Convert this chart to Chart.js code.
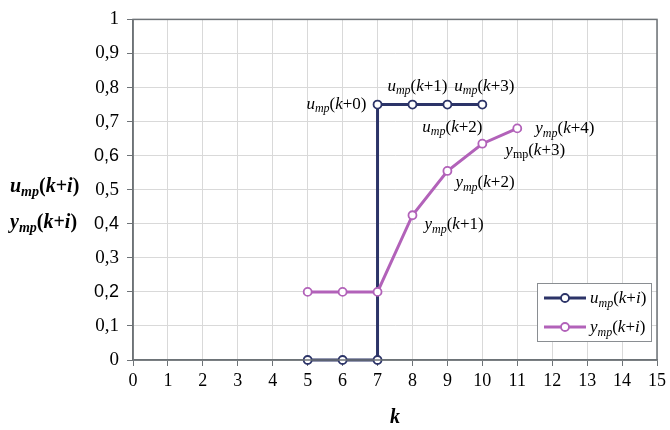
<!DOCTYPE html>
<html>
<head>
<meta charset="utf-8">
<script src="https://cdn.jsdelivr.net/npm/chart.js@4"></script>
<style>
  html, body { margin: 0; padding: 0; background: #fff; }
  #chart { display: block; }
</style>
</head>
<body>
<canvas id="chart" width="670" height="430"></canvas>
<script>
// =========================
// DATA
// =========================

const kTicks = [0, 1, 2, 3, 4, 5, 6, 7, 8, 9, 10, 11, 12, 13, 14, 15];
const yTickLabels = ["0", "0,1", "0,2", "0,3", "0,4", "0,5", "0,6", "0,7", "0,8", "0,9", "1"];

// u_mp(k+i): step at k = 7
const uK = [5, 6, 7, 7, 8, 9, 10];
const uVals = [0, 0, 0, 0.75, 0.75, 0.75, 0.75];

// y_mp(k+i)
const yK = [5, 6, 7, 8, 9, 10, 11];
const yVals = [0.2, 0.2, 0.2, 0.425, 0.555, 0.635, 0.68];

// point annotations: [k, value, argument]
const uNotes = [
  [7, 0.75, "(k+0)"],
  [8, 0.75, "(k+1)"],
  [9, 0.75, "(k+2)"],
  [10, 0.75, "(k+3)"],
];
const yNotes = [
  [8, 0.425, "(k+1)"],
  [9, 0.555, "(k+2)"],
  [10, 0.635, "(k+3)"],
  [11, 0.68, "(k+4)"],
];

const U_COLOR = "#2c3468";
const Y_COLOR = "#b262b9";
const SERIF = '"Liberation Serif", "Times New Roman", serif';
const SANS = '"Liberation Sans", Arial, sans-serif';

// =========================
// RICH TEXT (subscripts)
// =========================

function drawRich(ctx, x, y, base, sub, arg, size, opt) {
  opt = opt || {};
  const weight = opt.bold ? "bold " : "";
  const runs = [{ t: base, it: true, sz: size, dy: 0 }];
  runs.push({ t: sub, it: !opt.subUpright, sz: Math.round(size * 0.68), dy: size * 0.22 });
  for (const ch of arg) {
    runs.push({ t: ch, it: /[a-z]/.test(ch), sz: size, dy: 0 });
  }
  let total = 0;
  runs.forEach((r) => {
    ctx.font = `${r.it ? "italic " : ""}${weight}${r.sz}px ${SERIF}`;
    r.w = ctx.measureText(r.t).width;
    total += r.w;
  });
  let cx = x;
  if (opt.align === "right") cx = x - total;
  if (opt.align === "center") cx = x - total / 2;
  ctx.textAlign = "left";
  ctx.textBaseline = "alphabetic";
  ctx.fillStyle = opt.color || "#000";
  runs.forEach((r) => {
    ctx.font = `${r.it ? "italic " : ""}${weight}${r.sz}px ${SERIF}`;
    ctx.fillText(r.t, cx, y + r.dy);
    cx += r.w;
  });
}

// =========================
// EXTRAS PLUGIN
// =========================

const extrasPlugin = {
  id: "extras",
  afterDraw(chart) {
    const ctx = chart.ctx;
    const a = chart.chartArea;
    const xs = chart.scales.x;
    const ys = chart.scales.y;
    ctx.save();

    // plot frame
    ctx.strokeStyle = "#6e7377";
    ctx.lineWidth = 1.5;
    ctx.strokeRect(a.left, a.top, a.right - a.left, a.bottom - a.top);

    // u annotations
    const uOff = [
      { dx: -11, dy: 4, align: "right" },
      { dx: 5, dy: -14, align: "center" },
      { dx: 5, dy: 27, align: "center" },
      { dx: 2, dy: -14, align: "center" },
    ];
    uNotes.forEach((n, i) => {
      const px = xs.getPixelForValue(n[0]);
      const py = ys.getPixelForValue(n[1]);
      const o = uOff[i];
      drawRich(ctx, px + o.dx, py + o.dy, "u", "mp", n[2], 17, { align: o.align });
    });

    // y annotations
    const yOff = [
      { dx: 12, dy: 14 },
      { dx: 8, dy: 16 },
      { dx: 23, dy: 11, subUpright: true },
      { dx: 18, dy: 5 },
    ];
    yNotes.forEach((n, i) => {
      const px = xs.getPixelForValue(n[0]);
      const py = ys.getPixelForValue(n[1]);
      const o = yOff[i];
      drawRich(ctx, px + o.dx, py + o.dy, "y", "mp", n[2], 17, { subUpright: o.subUpright });
    });

    // y axis title (two lines)
    drawRich(ctx, 10, 192, "u", "mp", "(k+i)", 20, { bold: true });
    drawRich(ctx, 10, 228, "y", "mp", "(k+i)", 20, { bold: true });

    // legend
    const lw = 114, lh = 58;
    const lx = a.right - 6 - lw;
    const ly = a.bottom - 19 - lh;
    ctx.fillStyle = "#fff";
    ctx.fillRect(lx, ly, lw, lh);
    ctx.strokeStyle = "#8a8e92";
    ctx.lineWidth = 1;
    ctx.strokeRect(lx + 0.5, ly + 0.5, lw, lh);
    [[U_COLOR, "u", 15], [Y_COLOR, "y", 44]].forEach(([col, base, off]) => {
      const cy = ly + off;
      ctx.strokeStyle = col;
      ctx.lineWidth = 3;
      ctx.beginPath();
      ctx.moveTo(lx + 7, cy);
      ctx.lineTo(lx + 49, cy);
      ctx.stroke();
      ctx.beginPath();
      ctx.arc(lx + 28, cy, 4, 0, Math.PI * 2);
      ctx.fillStyle = "#fff";
      ctx.fill();
      ctx.lineWidth = 1.8;
      ctx.stroke();
      drawRich(ctx, lx + 53, cy + 5, base, "mp", "(k+i)", 17, {});
    });

    ctx.restore();
  },
};

// =========================
// CHART
// =========================

const pointStyle = (color) => ({
  borderColor: color,
  borderWidth: 3,
  pointRadius: 4,
  pointHoverRadius: 4,
  pointBackgroundColor: "#fff",
  pointBorderColor: color,
  pointBorderWidth: 1.8,
  tension: 0,
  clip: false,
  fill: false,
});

new Chart(document.getElementById("chart"), {
  type: "line",
  data: {
    datasets: [
      {
        label: "y",
        data: yK.map((k, i) => ({ x: k, y: yVals[i] })),
        ...pointStyle(Y_COLOR),
      },
      {
        label: "u",
        data: uK.map((k, i) => ({ x: k, y: uVals[i] })),
        ...pointStyle(U_COLOR),
      },
    ],
  },
  options: {
    responsive: false,
    animation: false,
    layout: { padding: { top: 14, right: 4, left: 0, bottom: 0 } },
    plugins: { legend: { display: false }, tooltip: { enabled: false } },
    scales: {
      x: {
        type: "linear",
        min: kTicks[0],
        max: kTicks[kTicks.length - 1],
        afterBuildTicks: (s) => { s.ticks = kTicks.map((v) => ({ value: v })); },
        afterFit: (s) => { s.height = 70; },
        ticks: {
          color: "#000",
          font: { family: SERIF, size: 18 },
          padding: 4,
          maxRotation: 0,
          autoSkip: false,
        },
        grid: { color: "#d9d9d9", tickColor: "#6e7377", tickLength: 6 },
        border: { color: "#6e7377", width: 1.5 },
        title: {
          display: true,
          text: "k",
          color: "#000",
          font: { family: SERIF, size: 20, weight: "bold", style: "italic" },
          padding: { top: 0, bottom: 0 },
        },
      },
      y: {
        min: 0,
        max: 1,
        afterBuildTicks: (s) => { s.ticks = yTickLabels.map((_, i) => ({ value: i / 10 })); },
        afterFit: (s) => { s.width = 133; },
        ticks: {
          color: "#000",
          padding: 8,
          autoSkip: false,
          callback: (v, i) => yTickLabels[i],
          font: (c) => ({
            family: [2, 4, 6].includes(c.index) ? SANS : SERIF,
            size: [2, 4, 6].includes(c.index) ? 18 : 19,
          }),
        },
        grid: { color: "#d9d9d9", tickColor: "#6e7377", tickLength: 6 },
        border: { color: "#6e7377", width: 1.5 },
      },
    },
  },
  plugins: [extrasPlugin],
});
</script>
</body>
</html>
